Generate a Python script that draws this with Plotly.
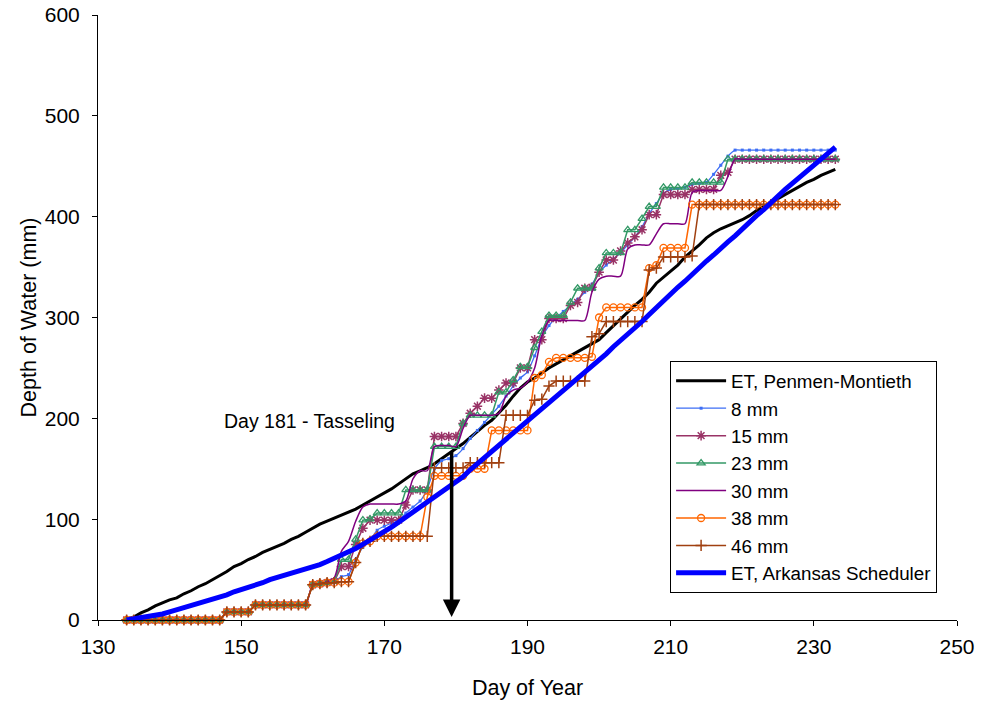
import plotly.graph_objects as go

days = list(range(134, 234))

et_penman = [0,3,7,10,14,17,20,22,26,29,
             33,36,40,44,48,53,56,60,63,67,
             70,73,76,80,83,87,91,95,98,101,
             104,107,110,114,118,122,126,130,135,140,
             145,148,151,155,160,165,170,175,181,187,
             193,198,205,213,222,230,236,240,245,250,
             254,258,262,266,270,274,278,285,292,299,
             306,312,318,325,334,340,346,352,360,366,
             372,379,384,388,391,394,397,401,406,410,
             414,418,422,426,430,434,437,441,444,447]

mm8 = [0,0,0,0,0,0,0,0,0,0,0,0,0,0, 8,8,8,8, 15,15,15,15,15,15,15,15,
       35,36,37,38,43,45,60,72,79,89,93,96,99,106,112,118,130,150,158,160,
       163,170,180,188,196,204,212,222,232,240,246,262,280,292,300,306,312,318,325,333,
       344,352,358,364,372,380,390,403,413,423,427,428,429,432,433,434,442,451,460,466,
       466,466,466,466,466,466,466,466,466,466,466,466,466,466]

mm15 = [0,0,0,0,0,0,0,0,0,0,0,0,0,0, 8,8,8,8, 15,15,15,15,15,15,15,15,
        35,36,37,38,53,53,75,91,
        99,99,99,99,99,
        114,129,129,129,
        182,182,182,182,
        195,205,212,220,220,228,235,235,250,250,278,278,
        299,299,299,312,315,329,330,345,357,357,
        366,374,380,387,402,402,
        422,422,422,422,427,427,427,427,441,444,
        457,457,457,457,457,457,457,457,457,457,457,457,457,457,457]

mm23 = [0,0,0,0,0,0,0,0,0,0,0,0,0,0, 8,8,8,8, 15,15,15,15,15,15,15,15,
        35,36,37,38,60,60,80,99,100,
        106,106,106,106,
        129,129,129,129,
        172,172,172,172,
        195,203,203,203,203,226,226,238,251,251,270,286,
        302,302,302,315,329,329,329,349,364,364,364,
        387,387,398,410,410,
        429,429,429,429,434,434,434,434,434,
        457,457,457,457,457,457,457,457,457,457,457,457,457,457,457,457]

mm30 = [0,0,0,0,0,0,0,0,0,0,0,0,0,0, 8,8,8,8, 15,15,15,15,15,15,15,15,
        35,36,38,42,68,78,98,112,
        115,115,115,115,115,
        118,140,148,148,
        172,173,173,172,190,
        203,203,203,203,205,
        222,228,230,236,250,282,
        297,297,297,297,297,297,
        325,338,341,341,341,
        368,372,372,372,383,
        393,393,393,393,
        424,426,426,426,426,440,
        457,457,457,457,457,457,457,457,457,457,457,457,457,457,457]

mm38 = [0,0,0,0,0,0,0,0,0,0,0,0,0,0, 8,8,8,8, 15,15,15,15,15,15,15,15,
        35,36,37,37,38,38,57,76,78,
        83,83,83,83,83,83,83,
        122,143,143,143,143,143,150,150,150,
        188,188,188,188,188,188,240,243,
        256,260,260,260,260,260,261,300,
        310,310,310,310,310,310,349,352,
        369,369,369,369,
        412,412,412,412,412,412,412,412,412,412,412,412,412,412,412,412,412,412,412,412,412]

mm46 = [0,0,0,0,0,0,0,0,0,0,0,0,0,0, 8,8,8,8, 15,15,15,15,15,15,15,15,
        35,36,37,37,38,38,57,76,78,
        83,83,83,83,83,83,83,83,
        151,151,151,151,151,156,156,156,156,156,
        203,203,203,203,218,219,232,
        237,237,237,237,237,281,284,
        296,296,296,296,296,296,347,349,
        360,360,360,360,361,
        412,412,412,412,412,412,412,412,412,412,412,412,412,412,412,412,412,412,412,412]

et_arkansas = [0,1,2,3,5,6,8,10,12,14,
               16,19,21,23,25,28,30,32,35,37,
               40,42,44,46,48,51,53,55,58,61,
               64,67,71,75,79,83,88,92,97,102,
               107,112,117,122,127,132,137,142,149,155,
               161,167,173,179,185,191,197,203,209,215,
               221,227,233,239,245,252,258,264,271,277,
               283,290,296,303,310,316,323,330,336,343,
               349,356,362,369,375,381,388,394,401,407,
               414,420,427,433,439,446,452,458,464,469]

for s in (et_penman, mm8, mm15, mm23, mm30, mm38, mm46, et_arkansas):
    assert len(s) == 100, len(s)

FONT = "Liberation Sans, Arial, sans-serif"

fig = go.Figure()
fig.add_trace(go.Scatter(x=days, y=et_penman, name="ET, Penmen-Montieth", mode="lines",
                         line=dict(color="black", width=3), cliponaxis=False))
fig.add_trace(go.Scatter(x=days, y=mm8, name="8 mm", mode="lines+markers",
                         line=dict(color="#3D6EF5", width=1.3, shape="spline", smoothing=0.6),
                         marker=dict(symbol="square", size=3, color="#3D6EF5"), cliponaxis=False))
fig.add_trace(go.Scatter(x=days, y=mm15, name="15 mm", mode="lines+markers",
                         line=dict(color="#993366", width=1.5),
                         marker=dict(symbol="asterisk-open", size=8, color="#993366",
                                     line=dict(color="#993366", width=1.5)), cliponaxis=False))
fig.add_trace(go.Scatter(x=days, y=mm23, name="23 mm", mode="lines+markers",
                         line=dict(color="#339966", width=1.5),
                         marker=dict(symbol="triangle-up-open", size=7, color="#339966",
                                     line=dict(color="#339966", width=1.3)), cliponaxis=False))
fig.add_trace(go.Scatter(x=days, y=mm30, name="30 mm", mode="lines",
                         line=dict(color="#800080", width=1.5, shape="spline", smoothing=0.8),
                         cliponaxis=False))
fig.add_trace(go.Scatter(x=days, y=mm38, name="38 mm", mode="lines+markers",
                         line=dict(color="#FF6600", width=1.5),
                         marker=dict(symbol="circle-open", size=7, color="#FF6600",
                                     line=dict(color="#FF6600", width=1.3)), cliponaxis=False))
fig.add_trace(go.Scatter(x=days, y=mm46, name="46 mm", mode="lines+markers",
                         line=dict(color="#A04010", width=1.5),
                         marker=dict(symbol="cross-thin-open", size=8, color="#A04010",
                                     line=dict(color="#A04010", width=1.5)), cliponaxis=False))
fig.add_trace(go.Scatter(x=days, y=et_arkansas, name="ET, Arkansas Scheduler", mode="lines",
                         line=dict(color="#0000FF", width=5), cliponaxis=False))

fig.add_annotation(x=179.4, y=3, ax=179.4, ay=168, xref="x", yref="y", axref="x", ayref="y",
                   text="", showarrow=True, arrowhead=2, arrowwidth=3.5, arrowsize=1,
                   arrowcolor="black")
fig.add_annotation(x=159.6, y=197, xref="x", yref="y", text="Day 181 - Tasseling",
                   showarrow=False, font=dict(family=FONT, size=19.5, color="black"))

axis_common = dict(showline=True, linecolor="black", linewidth=1, ticks="outside",
                   ticklen=5, tickcolor="black", showgrid=False, zeroline=False,
                   automargin=False,
                   tickfont=dict(family=FONT, size=21, color="black"))

fig.update_layout(
    width=982, height=706,
    margin=dict(l=98, r=25, t=15, b=86),
    paper_bgcolor="white", plot_bgcolor="white",
    font=dict(family=FONT, size=19, color="black"),
    xaxis=dict(range=[130, 250], dtick=20, tick0=130, ticklabelstandoff=3,
               title=dict(text="Day of Year", font=dict(family=FONT, size=21.5), standoff=22),
               **axis_common),
    yaxis=dict(range=[0, 600], dtick=100, ticklabelstandoff=8,
               title=dict(text="Depth of Water (mm)", font=dict(family=FONT, size=21.5), standoff=2),
               **axis_common),
    legend=dict(x=0.666, y=0.428, xanchor="left", yanchor="top",
                bgcolor="white", bordercolor="black", borderwidth=1,
                font=dict(family=FONT, size=18.8, color="black"),
                tracegroupgap=0, itemwidth=50),
    showlegend=True,
)

fig.write_html("out.html")
